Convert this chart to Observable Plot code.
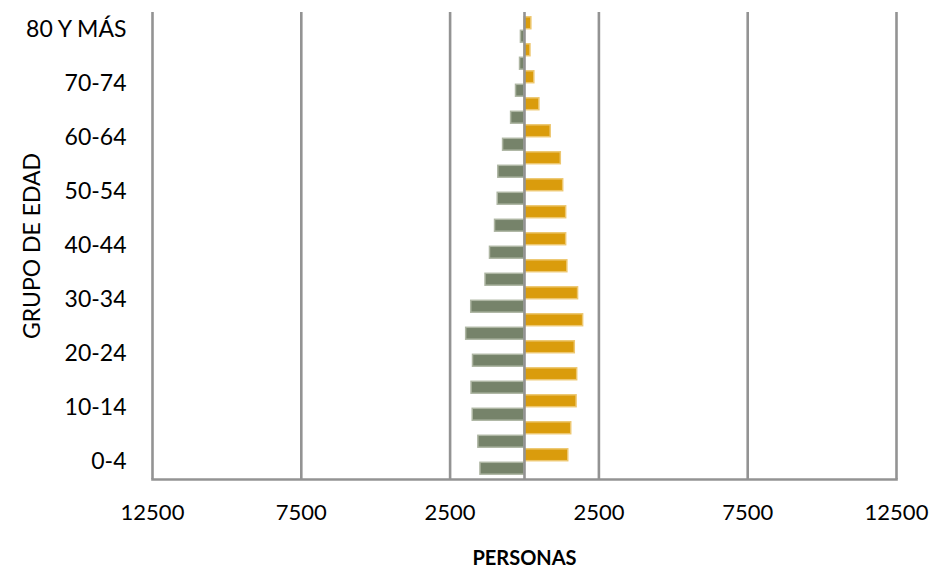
<!DOCTYPE html>
<html>
<head>
<meta charset="utf-8">
<script src="https://cdn.jsdelivr.net/npm/d3@7"></script>
<script src="https://cdn.jsdelivr.net/npm/@observablehq/plot@0.6"></script>
<style>
  html, body { margin: 0; padding: 0; background: #fff; }
  #chart { width: 936px; height: 571px; }
</style>
</head>
<body>
<div id="chart"></div>
<script>
const ages = ["0-4","5-9","10-14","15-19","20-24","25-29","30-34","35-39","40-44","45-49","50-54","55-59","60-64","65-69","70-74","75-79","80 Y MÁS"];
const hombres = [1480, 1550, 1740, 1780, 1730, 1960, 1790, 1310, 1160, 990, 900, 880, 720, 450, 285, 150, 120];
const mujeres = [1470, 1570, 1750, 1770, 1690, 1970, 1800, 1440, 1400, 1400, 1300, 1220, 880, 500, 330, 200, 230];
const xTicks = [-12500, -7500, -2500, 2500, 7500, 12500];
const yTickLabels = ["0-4","10-14","20-24","30-34","40-44","50-54","60-64","70-74","80 Y MÁS"];

const dataH = ages.map((a, i) => ({age: a, value: -hombres[i]}));
const dataM = ages.map((a, i) => ({age: a, value: mujeres[i]}));

const gridColor = "#939393";
const fmt = d => String(Math.abs(d));

const chart = Plot.plot({
  width: 936,
  height: 571,
  marginLeft: 152,
  marginRight: 40,
  marginTop: 12,
  marginBottom: 92,
  style: {fontFamily: "Lato, 'Open Sans', sans-serif", fontSize: "22px", color: "#000", background: "#fff"},
  x: {domain: [-12500, 12500], ticks: xTicks, tickFormat: fmt, label: null},
  y: {domain: ages.slice().reverse(), padding: 0, label: null},
  marks: [
    Plot.gridX(xTicks, {stroke: gridColor, strokeOpacity: 1, strokeWidth: 2.6}),
    Plot.barX(dataH, {x: "value", y: "age", fill: "#76836A", stroke: "#AEB6A3", strokeWidth: 1.5, insetTop: 14.3, insetBottom: 0.8}),
    Plot.barX(dataM, {x: "value", y: "age", fill: "#DA9C0C", stroke: "#EDC770", strokeWidth: 1.5, insetTop: 0.8, insetBottom: 14.3}),
    Plot.ruleX([0], {stroke: gridColor, strokeWidth: 2.6}),
    Plot.frame({anchor: "bottom", stroke: gridColor, strokeWidth: 2.6}),
    Plot.axisX({ticks: xTicks, tickSize: 0, tickPadding: 25, tickFormat: fmt, label: null, fontSize: 22}),
    Plot.axisY({ticks: yTickLabels, tickSize: 0, tickPadding: 26, label: null, fontSize: 23}),
    Plot.text(["PERSONAS"], {text: d => d, frameAnchor: "bottom", dy: 85, fontWeight: "bold", fontSize: 20, textAnchor: "middle"}),
    Plot.text(["GRUPO DE EDAD"], {text: d => d, frameAnchor: "left", dx: -120, rotate: -90, fontSize: 23, textAnchor: "middle"})
  ]
});
document.getElementById("chart").appendChild(chart);
</script>
</body>
</html>
